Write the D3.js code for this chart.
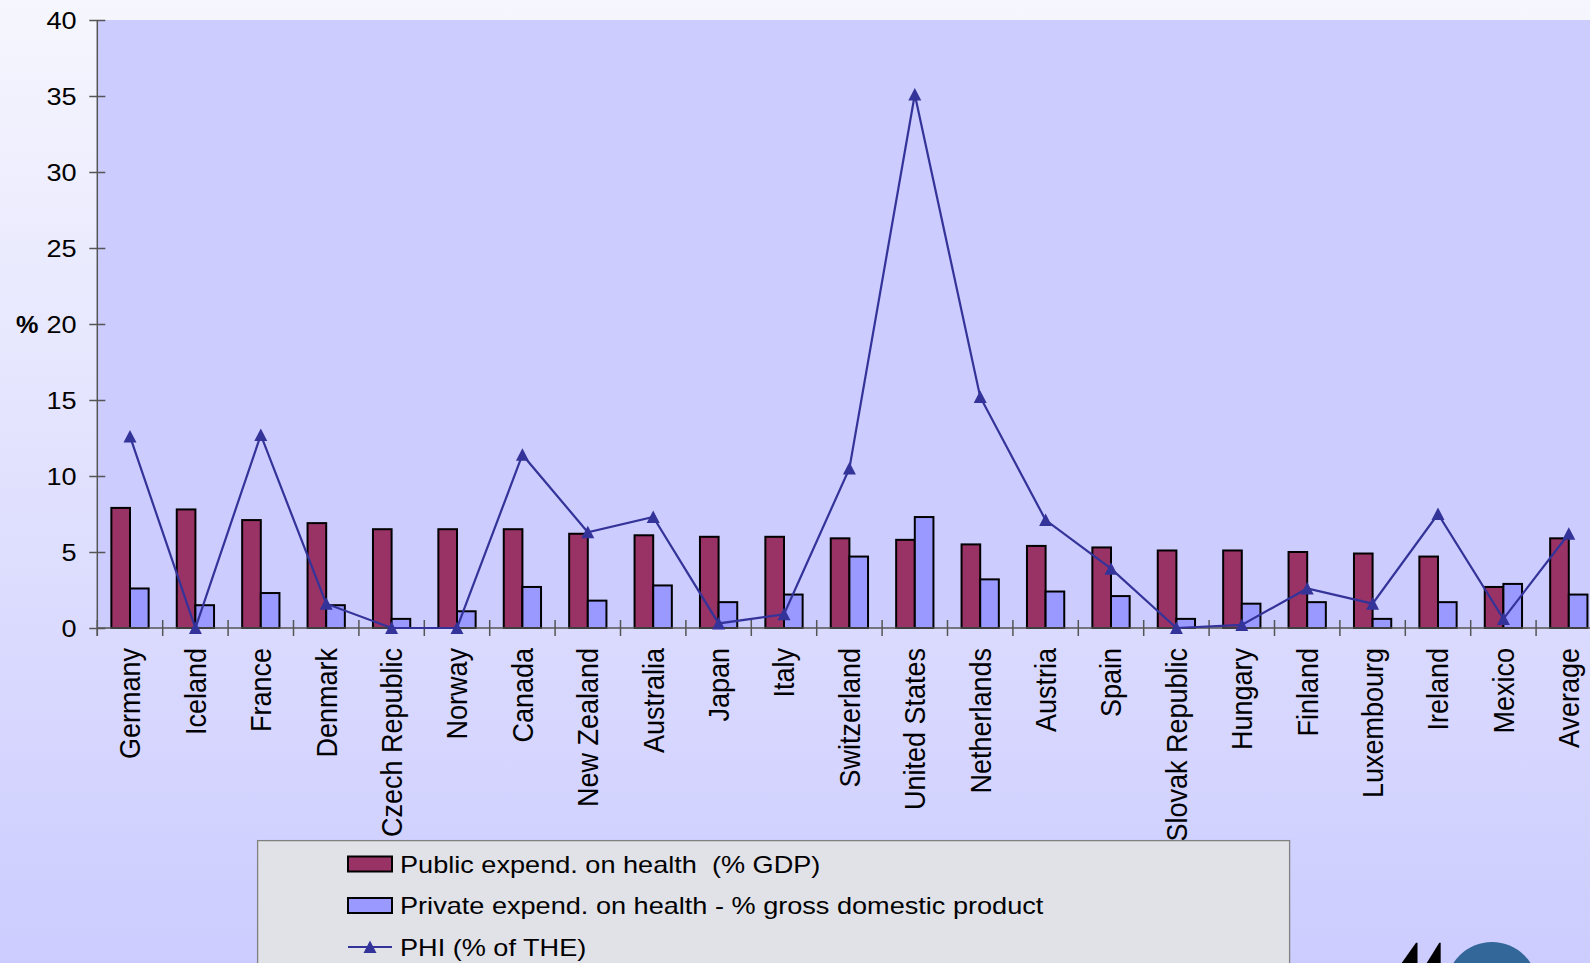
<!DOCTYPE html>
<html><head><meta charset="utf-8">
<script src="https://cdn.jsdelivr.net/npm/d3@7"></script>
<style>
html,body{margin:0;padding:0;overflow:hidden;background:#fff}
svg{display:block}
text{font-family:"Liberation Sans",Arial,Helvetica,sans-serif;fill:#000}
</style>
</head><body>
<svg id="c" width="1590" height="963"></svg>
<script>
const countries = ["Germany","Iceland","France","Denmark","Czech Republic","Norway","Canada","New Zealand","Australia","Japan","Italy","Switzerland","United States","Netherlands","Austria","Spain","Slovak Republic","Hungary","Finland","Luxembourg","Ireland","Mexico","Average"];
const publicExp  = [7.9,7.8,7.1,6.9,6.5,6.5,6.5,6.2,6.1,6.0,6.0,5.9,5.8,5.5,5.4,5.3,5.1,5.1,5.0,4.9,4.7,2.7,5.9];
const privateExp = [2.6,1.5,2.3,1.5,0.6,1.1,2.7,1.8,2.8,1.7,2.2,4.7,7.3,3.2,2.4,2.1,0.6,1.6,1.7,0.6,1.7,2.9,2.2];
const phi        = [12.6,0,12.7,1.6,0,0,11.4,6.3,7.3,0.3,0.9,10.5,35.1,15.2,7.1,3.9,0,0.2,2.6,1.6,7.5,0.6,6.2];
const yTicks = [0,5,10,15,20,25,30,35,40];
const legendLabels = ["Public expend. on health  (% GDP)","Private expend. on health - % gross domestic product","PHI (% of THE)"];
const colors = {pub:"#993366", priv:"#9999ff", line:"#333399"};

(function(){
const W = 1590, H = 963;
const svg = d3.select("#c");
const defs = svg.append("defs");
const grad = defs.append("linearGradient").attr("id","bg").attr("x1",0).attr("y1",0).attr("x2",0).attr("y2",1);
grad.append("stop").attr("offset","0%").attr("stop-color","#f6f6fe");
grad.append("stop").attr("offset","100%").attr("stop-color","#ccccff");
svg.append("rect").attr("width",W).attr("height",H).attr("fill","url(#bg)");

const pLeft = 97.3, pTop = 20, pBottom = 628, step = 65.4;
const x = d3.scaleBand().domain(countries).range([pLeft, pLeft + step*countries.length]).padding(0);
const bw = x.bandwidth();
const xs = d3.scaleBand().domain(["pub","priv"]).range([-bw*0.285, bw*0.285]).padding(0);
const y = d3.scaleLinear().domain([0,40]).range([pBottom, pTop]);

// plot area
svg.append("rect").attr("x",pLeft).attr("y",pTop).attr("width",W-pLeft).attr("height",pBottom-pTop).attr("fill","#ccccff");

// bars
const g = svg.append("g");
countries.forEach((c,i)=>{
  const cx = x(c) + bw/2;
  [["pub",publicExp[i]],["priv",privateExp[i]]].forEach(([k,v])=>{
    g.append("rect")
      .attr("x", cx + xs(k)).attr("width", xs.bandwidth())
      .attr("y", y(v)).attr("height", y(0)-y(v))
      .attr("fill", colors[k]).attr("stroke","#000").attr("stroke-width",2);
  });
});

// y axis
const yAxis = svg.append("g").attr("transform",`translate(${pLeft},0)`)
  .call(d3.axisLeft(y).tickValues(yTicks).tickSize(8).tickPadding(0));
yAxis.attr("font-family",null).attr("font-size",null);
yAxis.select(".domain").attr("d",`M0,${pTop}V${pBottom+8}`).attr("stroke","#555").attr("stroke-width",1.5);
yAxis.selectAll(".tick line").attr("x1",-8).attr("x2",8).attr("stroke","#555").attr("stroke-width",1.5);
yAxis.selectAll(".tick text").attr("x",null)
  .attr("transform","translate(-20.6,0) scale(1.13,1)")
  .attr("dy","0.36em").attr("font-size",24).attr("text-anchor","end").attr("fill","#000");

svg.append("text").text("%")
  .attr("transform",`translate(16,${y(20)}) scale(1.05,1)`).attr("dy","0.36em")
  .attr("font-size",24).attr("font-weight","bold");

// x axis
svg.append("line").attr("x1",pLeft).attr("x2",W).attr("y1",y(0)).attr("y2",y(0)).attr("stroke","#555").attr("stroke-width",1.5);
const bounds = countries.map(c=>x(c)).concat([x(countries[countries.length-1])+bw]);
svg.append("g").selectAll("line").data(bounds).join("line")
  .attr("x1",d=>d).attr("x2",d=>d).attr("y1",y(0)-8).attr("y2",y(0)+8)
  .attr("stroke","#555").attr("stroke-width",1.5);

// x labels
svg.append("g").selectAll("text").data(countries).join("text")
  .text(d=>d)
  .attr("transform",d=>`translate(${x(d)+bw/2},648) rotate(-90) scale(1,1.07)`)
  .attr("text-anchor","end").attr("dy","0.36em").attr("font-size",27);

// PHI line
const line = d3.line().x((d,i)=>x(countries[i])+bw/2).y(d=>y(d));
svg.append("path").datum(phi).attr("d",line).attr("fill","none").attr("stroke",colors.line).attr("stroke-width",2.2).attr("stroke-linejoin","miter");
const tri = "M0,-6.5L6.5,6L-6.5,6Z";
svg.append("g").selectAll("path").data(phi).join("path")
  .attr("d",tri).attr("transform",(d,i)=>`translate(${x(countries[i])+bw/2},${y(d)})`)
  .attr("fill",colors.line);

// legend
const lg = svg.append("g");
lg.append("rect").attr("x",257.6).attr("y",840.6).attr("width",1032).attr("height",160)
  .attr("fill","#e1e1e8").attr("stroke","#808080").attr("stroke-width",1.3);
const rows = [864, 905.5, 947];
lg.append("rect").attr("x",348).attr("y",rows[0]-7.5).attr("width",44).attr("height",15).attr("fill",colors.pub).attr("stroke","#000").attr("stroke-width",2);
lg.append("rect").attr("x",348).attr("y",rows[1]-7.5).attr("width",44).attr("height",15).attr("fill",colors.priv).attr("stroke","#000").attr("stroke-width",2);
lg.append("line").attr("x1",348).attr("x2",392).attr("y1",rows[2]).attr("y2",rows[2]).attr("stroke",colors.line).attr("stroke-width",2.2);
lg.append("path").attr("d",tri).attr("transform",`translate(370,${rows[2]})`).attr("fill",colors.line);
legendLabels.forEach((t,i)=>{
  lg.append("text").text(t).style("white-space","pre")
    .attr("transform",`translate(400,${rows[i]}) scale(1.13,1)`).attr("dy","0.36em").attr("font-size",24);
});

// logo fragment (decoration)
const logo = svg.append("g");
logo.append("circle").attr("cx",1492).attr("cy",988).attr("r",46).attr("fill","#336699");
logo.append("path").attr("d","M1401.7,963L1416,942.7L1417.5,942.7L1417.5,963Z").attr("fill","#000");
logo.append("path").attr("d","M1426.7,963L1439.3,942.7L1440.7,942.7L1440.7,963Z").attr("fill","#000");
})();
</script>
</body></html>
